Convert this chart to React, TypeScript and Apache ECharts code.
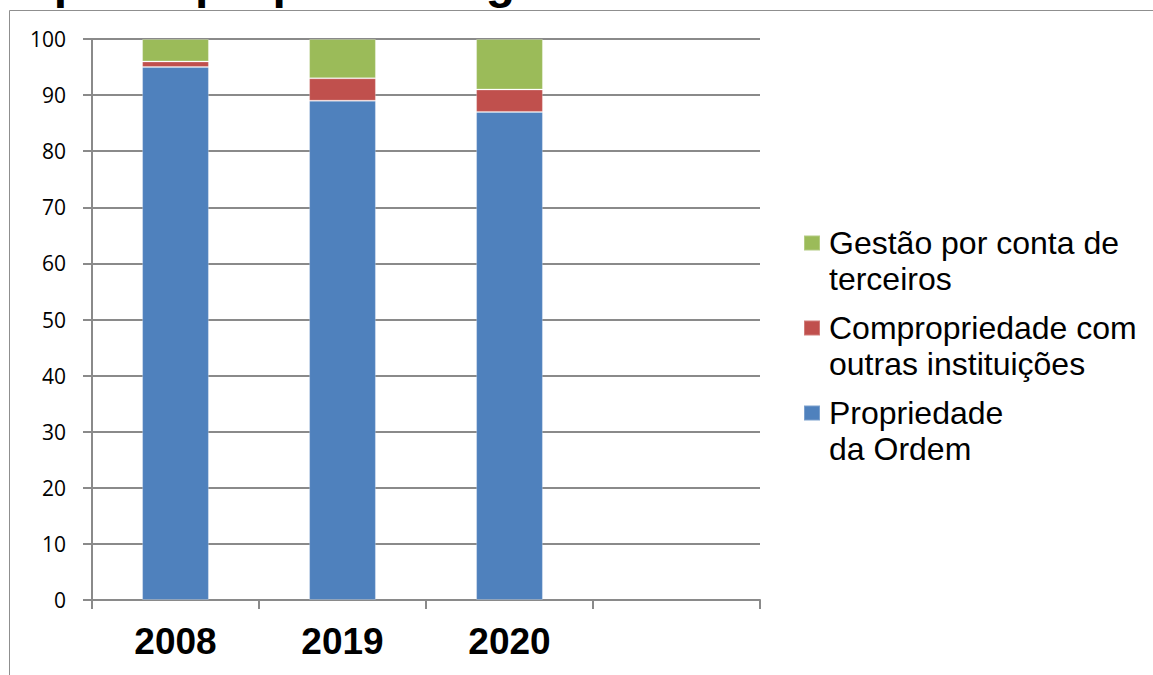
import React, { useEffect, useRef } from "react";
import * as echarts from "echarts";

const titleText = "Tipo de propriedade gerida";
const categories = ["2008", "2019", "2020", ""];
const seriesNames = [
  "Propriedade\nda Ordem",
  "Compropriedade com\noutras instituições",
  "Gestão por conta de\nterceiros",
];
const propriedadeOrdem = [95, 89, 87, null];
const compropriedade = [1, 4, 4, null];
const gestaoTerceiros = [4, 7, 9, null];
const seriesColors = ["#4F81BD", "#C0504D", "#9BBB59"];
const yMin = 0;
const yMax = 100;
const yInterval = 10;

export default function App() {
  const ref = useRef<HTMLDivElement>(null);
  useEffect(() => {
    if (!ref.current) return;
    const chart = echarts.init(ref.current, undefined, { renderer: "svg" });
    const values = [propriedadeOrdem, compropriedade, gestaoTerceiros];
    const LH = 36;
    chart.setOption({
      animation: false,
      backgroundColor: "#ffffff",
      grid: { left: 92, right: 393, top: 39, bottom: 75, containLabel: false },
      graphic: [
        {
          type: "rect",
          shape: { x: 9.5, y: 10.5, width: 1300, height: 800 },
          style: { fill: "none", stroke: "#8f8f8f", lineWidth: 1 },
          silent: true,
          z: 0,
        },
        {
          type: "text",
          x: 12,
          y: -19,
          style: {
            text: titleText,
            font: "bold 48px 'Liberation Sans', Arial, sans-serif",
            fill: "#000000",
            align: "left",
            verticalAlign: "middle",
          },
          silent: true,
          z: 10,
        },
      ],
      legend: {
        orient: "vertical",
        left: 803,
        top: 189,
        padding: 0,
        itemWidth: 16,
        itemHeight: 15,
        itemGap: 85 - 3 * LH,
        icon: "rect",
        data: [seriesNames[2], seriesNames[1], seriesNames[0]],
        formatter: (name: string) => "\n" + name,
        textStyle: {
          fontFamily: "'Liberation Sans', Arial, sans-serif",
          fontSize: 32,
          lineHeight: LH,
          color: "#000000",
          padding: [0, 0, 0, 4],
        },
      },
      xAxis: {
        type: "category",
        data: categories,
        boundaryGap: true,
        axisLine: { show: true, lineStyle: { color: "#8a8a8a", width: 2 } },
        axisTick: {
          show: true,
          interval: 0,
          length: 9,
          lineStyle: { color: "#8a8a8a", width: 2 },
        },
        axisLabel: {
          interval: 0,
          margin: 23,
          color: "#000000",
          fontFamily: "'Liberation Sans', Arial, sans-serif",
          fontWeight: "bold",
          fontSize: 37,
        },
        splitLine: { show: false },
      },
      yAxis: {
        type: "value",
        min: yMin,
        max: yMax,
        interval: yInterval,
        axisLine: { show: true, lineStyle: { color: "#8a8a8a", width: 2 } },
        axisTick: {
          show: true,
          length: 9,
          lineStyle: { color: "#8a8a8a", width: 2 },
        },
        axisLabel: {
          margin: 26,
          color: "#000000",
          fontFamily: "'Open Sans', sans-serif",
          fontSize: 21,
        },
        splitLine: { show: true, lineStyle: { color: "#8a8a8a", width: 2 } },
      },
      series: seriesNames.map((name, i) => ({
        name,
        type: "bar",
        stack: "total",
        barWidth: "40%",
        data: values[i],
        itemStyle: {
          color: seriesColors[i],
          borderColor: "rgba(255,255,255,0.25)",
          borderWidth: 1,
        },
        z: 3,
      })),
    });
    return () => chart.dispose();
  }, []);
  return (
    <div
      ref={ref}
      style={{ position: "fixed", left: 0, top: 0, width: 1153, height: 675 }}
    />
  );
}
